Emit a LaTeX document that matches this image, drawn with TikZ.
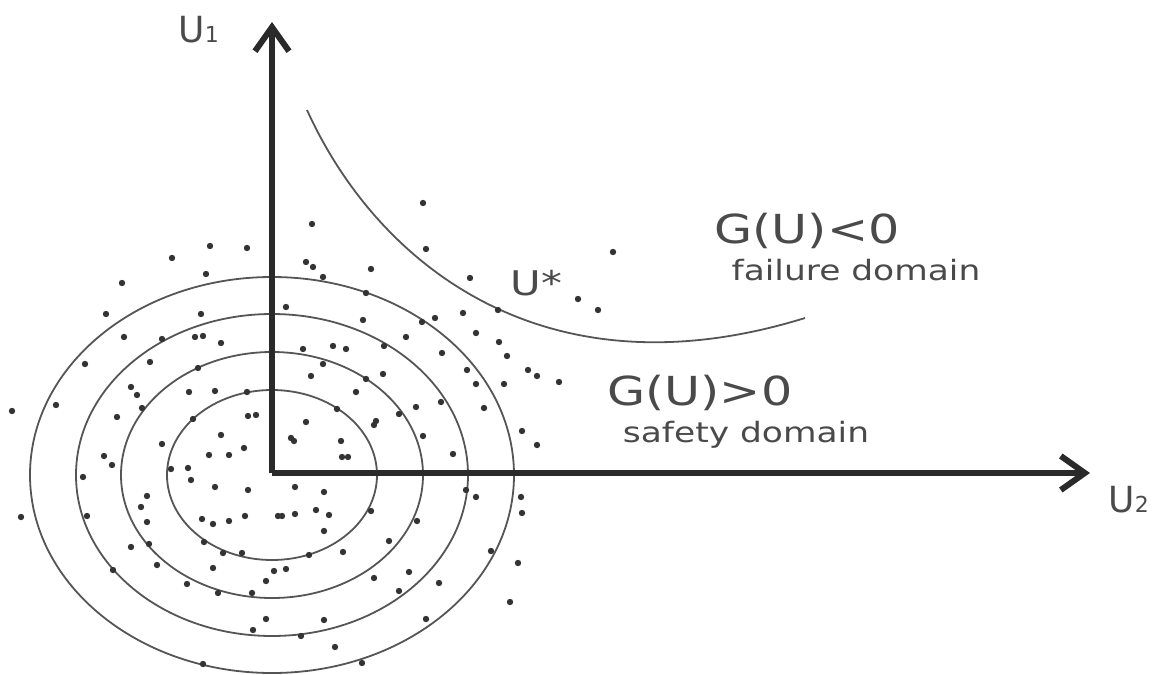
\documentclass[tikz,border=0pt]{standalone}
\usepackage{fontspec}
\setmainfont{DejaVu Sans}
\usetikzlibrary{arrows.meta}

\definecolor{axisgray}{HTML}{2A2A2A}
\definecolor{linegray}{HTML}{555555}
\definecolor{textgray}{HTML}{4A4A4A}
\definecolor{dotgray}{HTML}{333333}

% the source picture is stretched sideways
\newcommand{\wide}[1]{\scalebox{1.23}[1]{#1}}

\begin{document}
\begin{tikzpicture}[x=0.5pt, y=-0.5pt,
    axis/.style={line width=2.6pt, color=axisgray, -{Straight Barb[length=12pt, width=17pt, line width=3pt]}},
    contour/.style={line width=0.9pt, color=linegray},
    lbl/.style={inner sep=0pt, text=textgray}]
\useasboundingbox (0,0) rectangle (1168,675);

\coordinate (O) at (272,473);
\coordinate (U1tip) at (272,22);
\coordinate (U2tip) at (1090,473);
\coordinate (Gstart) at (307,110);
\coordinate (Gend) at (805,318);

% contours of the standard normal density
\foreach \rx/\ry in {105/85, 151/123, 196/161, 242/198}
    \draw[contour] (272,475) ellipse [x radius=\rx, y radius=\ry];

% limit state G(U)=0
\draw[contour] (Gstart) .. controls (375,260) and (540,400) .. (Gend);

% samples
\foreach \p in {(210,246),(247,248),(172,258),(206,274),(122,283),(106,314),(201,314),(124,337),(162,339),
    (195,337),(203,336),(221,343),(85,364),(150,362),(198,368),(131,387),(137,395),(189,392),(215,391),(247,392),
    (423,203),(312,224),(426,249),(613,252),(306,262),(313,267),(371,269),(323,277),(470,278),(578,299),(598,310),
    (366,293),(498,310),(286,307),(463,313),(363,320),(422,322),(435,318),(406,337),(476,333),(499,342),
    (303,349),(333,346),(346,349),(384,346),(442,353),(507,356),(323,364),(311,376),(383,374),(366,379),
    (467,370),(528,370),(537,376),(559,382),(356,392),(476,384),(504,384),
    (12,411),(56,405),(117,417),(142,408),(193,419),(248,416),(256,415),(221,435),(162,444),(209,455),
    (229,455),(244,448),(104,456),(112,465),(83,477),(171,469),(188,468),(191,480),(215,487),(248,490),
    (147,496),(141,507),(147,522),(21,517),(87,516),(202,519),(213,524),(229,521),(245,516),(278,516),
    (131,547),(149,544),(204,542),(223,553),(242,553),(157,565),(113,570),(213,568),(274,571),(266,581),
    (187,584),(218,593),(252,593),(266,619),(253,630),(203,664),
    (337,409),(306,422),(294,441),(291,438),(341,441),(342,457),(348,457),(376,421),(374,425),(399,414),(416,407),
    (441,402),(423,436),(453,454),(484,408),(522,431),(537,445),(295,487),(324,492),(282,516),(295,514),
    (316,510),(329,515),(324,531),(371,511),(417,521),(466,490),(476,497),(521,497),(522,513),(389,541),
    (343,552),(309,555),(286,569),(491,551),(518,563),(374,578),(409,572),(439,583),(399,591),(510,602),
    (324,620),(426,619),(301,636),(335,647),(362,663)}
    \fill[dotgray] \p circle (3.2);

% axes
\draw[axis] (O) -- (U1tip);
\draw[axis] (O) -- (U2tip);

\node[lbl, anchor=base west, font=\fontsize{18}{20}\selectfont] (lblU1) at (178,42) {U{\fontsize{11}{12}\selectfont 1}};
\node[lbl, anchor=base west, font=\fontsize{18}{20}\selectfont] (lblU2) at (1108,512) {U{\fontsize{11}{12}\selectfont 2}};
\node[lbl, anchor=base west, font=\fontsize{17}{20}\selectfont] (lblUstar) at (510,295) {\wide{U*}};

\node[lbl, anchor=base, font=\fontsize{20}{24}\selectfont] (lblFail) at (807,243) {\wide{G(U)<0}};
\node[lbl, anchor=base, font=\fontsize{14}{16}\selectfont] (lblFailDom) at (856,280) {\wide{failure domain}};
\node[lbl, anchor=base, font=\fontsize{20}{24}\selectfont] (lblSafe) at (700,405) {\wide{G(U)>0}};
\node[lbl, anchor=base, font=\fontsize{14}{16}\selectfont] (lblSafeDom) at (746,442) {\wide{safety domain}};
\end{tikzpicture}
\end{document}
